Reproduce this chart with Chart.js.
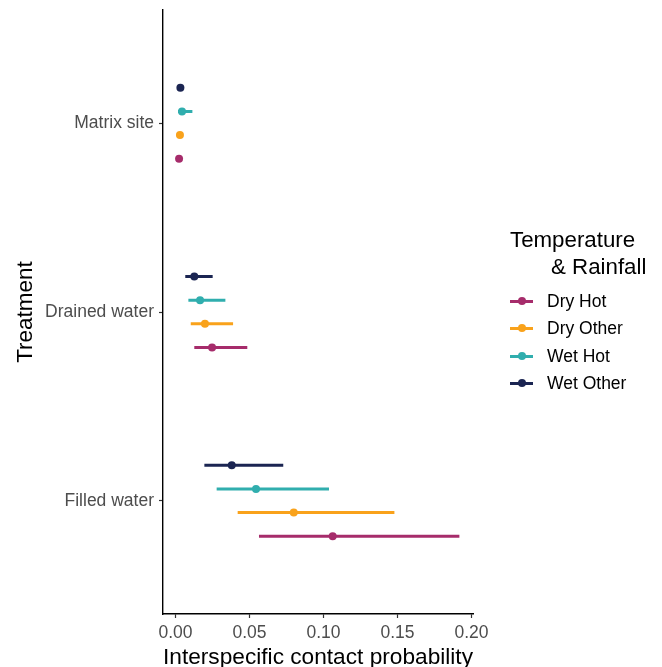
<!DOCTYPE html>
<html>
<head>
<meta charset="utf-8">
<script src="https://cdn.jsdelivr.net/npm/chart.js@4"></script>
<style>
  body { margin: 0; background: #fff; }
  #wrap { position: relative; width: 662px; height: 667px; font-family: "Liberation Sans", Arial, sans-serif; }
  #myChart { position: absolute; left: 0; top: 0; }
  .legend-title { position: absolute; font-size: 22.3px; color: #000; white-space: nowrap; line-height: 1; }
  .legend-item { position: absolute; left: 510px; height: 20px; font-size: 17.5px; color: #000; white-space: nowrap; }
  .legend-item .key { position: absolute; left: 0; top: 9px; width: 23px; height: 3px; }
  .legend-item .dot { position: absolute; left: 7.5px; top: -3px; width: 8px; height: 8px; border-radius: 50%; }
  .legend-item .lbl { position: absolute; left: 37px; top: 0; line-height: 20px; }
</style>
</head>
<body>
<div id="wrap">
  <canvas id="myChart" width="662" height="667"></canvas>
  <div class="legend-title" style="left:510px; top:229px;">Temperature</div>
  <div class="legend-title" style="left:551px; top:256px;">&amp; Rainfall</div>
  <div id="legend"></div>
</div>
<script>
var categories = ['Matrix site', 'Drained water', 'Filled water'];
var seriesNames = ['Dry Hot', 'Dry Other', 'Wet Hot', 'Wet Other'];
var seriesColors = ['#A62C6B', '#F9A21B', '#30AEAE', '#1B2552'];
var xTicks = [0, 0.05, 0.10, 0.15, 0.20];

// estimate, lower and upper bounds per treatment
var dryHot      = [0.0024, 0.0247, 0.1062];
var dryHotLow   = [0.0012, 0.0127, 0.0564];
var dryHotHigh  = [0.0036, 0.0485, 0.1918];

var dryOther     = [0.0030, 0.0199, 0.0799];
var dryOtherLow  = [0.0018, 0.0103, 0.0420];
var dryOtherHigh = [0.0042, 0.0389, 0.1479];

var wetHot      = [0.0044, 0.0166, 0.0544];
var wetHotLow   = [0.0017, 0.0087, 0.0278];
var wetHotHigh  = [0.0114, 0.0337, 0.1037];

var wetOther     = [0.0033, 0.0127, 0.0380];
var wetOtherLow  = [0.0017, 0.0066, 0.0195];
var wetOtherHigh = [0.0050, 0.0251, 0.0728];

var est  = [dryHot, dryOther, wetHot, wetOther];
var low  = [dryHotLow, dryOtherLow, wetHotLow, wetOtherLow];
var high = [dryHotHigh, dryOtherHigh, wetHotHigh, wetOtherHigh];

// dodge: width 0.5 split between 4 groups, first series lowest on the plot
var dodge = function (j) { return (1.5 - j) * 0.125; };

var datasets = [];
seriesNames.forEach(function (name, j) {
  var pts = [], segs = [];
  categories.forEach(function (c, i) {
    var y = i + 1 + dodge(j);
    pts.push({ x: est[j][i], y: y });
    segs.push({ x: low[j][i], y: y }, { x: high[j][i], y: y }, { x: null, y: null });
  });
  datasets.push({
    label: name + ' range',
    data: segs,
    showLine: true,
    spanGaps: false,
    borderColor: seriesColors[j],
    borderWidth: 3,
    borderCapStyle: 'butt',
    pointRadius: 0,
    order: 1
  });
  datasets.push({
    label: name,
    data: pts,
    backgroundColor: seriesColors[j],
    borderColor: seriesColors[j],
    pointRadius: 4,
    borderWidth: 0,
    order: 0
  });
});

var tickFont = { family: 'Liberation Sans', size: 17.5 };
var titleFont = { family: 'Liberation Sans', size: 22.5 };

var config = {
  type: 'scatter',
  data: { datasets: datasets },
  options: {
    responsive: false,
    animation: false,
    layout: { padding: { top: 10, right: 189, left: 0, bottom: 0 } },
    plugins: {
      legend: { display: false },
      tooltip: { enabled: false }
    },
    scales: {
      x: {
        type: 'linear',
        min: -0.00845,
        max: 0.2010,
        afterBuildTicks: function (axis) {
          axis.ticks = xTicks.map(function (v) { return { value: v }; });
        },
        afterFit: function (scale) { scale.height = 53; },
        grid: { display: true, drawOnChartArea: false, drawTicks: true, tickLength: 4, tickColor: '#333333', tickWidth: 1.2 },
        border: { display: true, color: '#000000', width: 1.4 },
        ticks: {
          color: '#4D4D4D',
          font: tickFont,
          padding: 5,
          maxRotation: 0,
          callback: function (v) { return v.toFixed(2); }
        },
        title: {
          display: true,
          text: 'Interspecific contact probability',
          color: '#000000',
          font: { family: 'Liberation Sans', size: 22.8, lineHeight: 0.8 },
          padding: { top: 0, bottom: 0 }
        }
      },
      y: {
        type: 'linear',
        reverse: true,
        min: 0.4,
        max: 3.6,
        afterBuildTicks: function (axis) {
          axis.ticks = categories.map(function (c, i) { return { value: i + 1 }; });
        },
        afterFit: function (scale) {
          scale.width = 163;
          scale.paddingTop = 0;
          scale.paddingBottom = 0;
        },
        grid: { display: true, drawOnChartArea: false, drawTicks: true, tickLength: 4, tickColor: '#333333', tickWidth: 1.2 },
        border: { display: true, color: '#000000', width: 1.4 },
        ticks: {
          color: '#4D4D4D',
          font: tickFont,
          padding: 5,
          callback: function (v) { return categories[v - 1]; }
        },
        title: {
          display: true,
          text: 'Treatment',
          color: '#000000',
          font: titleFont,
          padding: { top: 12, bottom: 0 }
        }
      }
    }
  }
};

var myChart = new Chart(document.getElementById('myChart'), config);

// legend built from the series
var legend = document.getElementById('legend');
var legendTop = [291, 318, 346, 373];
seriesNames.forEach(function (name, j) {
  var item = document.createElement('div');
  item.className = 'legend-item';
  item.style.top = legendTop[j] + 'px';
  item.innerHTML = '<div class="key" style="background:' + seriesColors[j] + '">' +
    '<div class="dot" style="background:' + seriesColors[j] + '"></div></div>' +
    '<span class="lbl">' + name + '</span>';
  legend.appendChild(item);
});
</script>
</body>
</html>
